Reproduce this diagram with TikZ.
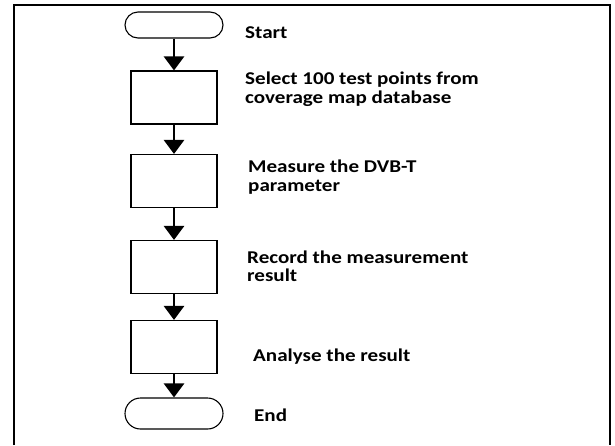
\documentclass[tikz,border=0pt]{standalone}
\usepackage{fontspec}
\setmainfont{Carlito}[FakeStretch=1.17]
\usetikzlibrary{arrows.meta,shapes.misc}

\tikzset{
  terminal/.style={draw, line width=1.1pt, rounded rectangle, minimum width=98pt, inner sep=0pt},
  stepbox/.style={draw, line width=1.1pt, rectangle, minimum width=86pt, minimum height=53pt, inner sep=0pt},
  flow/.style={line width=2.6pt, -{Triangle[length=14pt,width=20pt]}},
  label/.style={anchor=west, align=left, inner sep=0pt,
    font=\fontsize{18}{18.5}\selectfont\bfseries},
  frame/.style={line width=1.8pt}
}

\begin{document}
\begin{tikzpicture}[x=1pt, y=-1pt]
  \useasboundingbox (0,0) rectangle (615,445);

  % open frame: left, top and right sides
  \draw[frame] (14,445) -- (14,5) -- (610,5) -- (610,445);

  % flowchart shapes
  \node[terminal, minimum height=26pt] (start) at (174,25) {};
  \node[stepbox] (select) at (174,97.5) {};
  \node[stepbox] (measure) at (174,181) {};
  \node[stepbox] (record) at (174,267) {};
  \node[stepbox] (analyse) at (174,347) {};
  \node[terminal, minimum height=31pt] (end) at (174,413.5) {};

  % connectors
  \draw[flow] (start) -- (select);
  \draw[flow] (select) -- (measure);
  \draw[flow] (measure) -- (record);
  \draw[flow] (record) -- (analyse);
  \draw[flow] (analyse) -- (end);

  % step descriptions
  \node[label] (tstart) at (245,33) {Start};
  \node[label] (tselect) at (245,89) {Select 100 test points from\\coverage map database};
  \node[label] (tmeasure) at (248,177) {Measure the DVB-T\\parameter};
  \node[label] (trecord) at (247,266) {Record the measurement\\result};
  \node[label] (tanalyse) at (253,357) {Analyse the result};
  \node[label] (tend) at (254,415) {End};
\end{tikzpicture}
\end{document}
